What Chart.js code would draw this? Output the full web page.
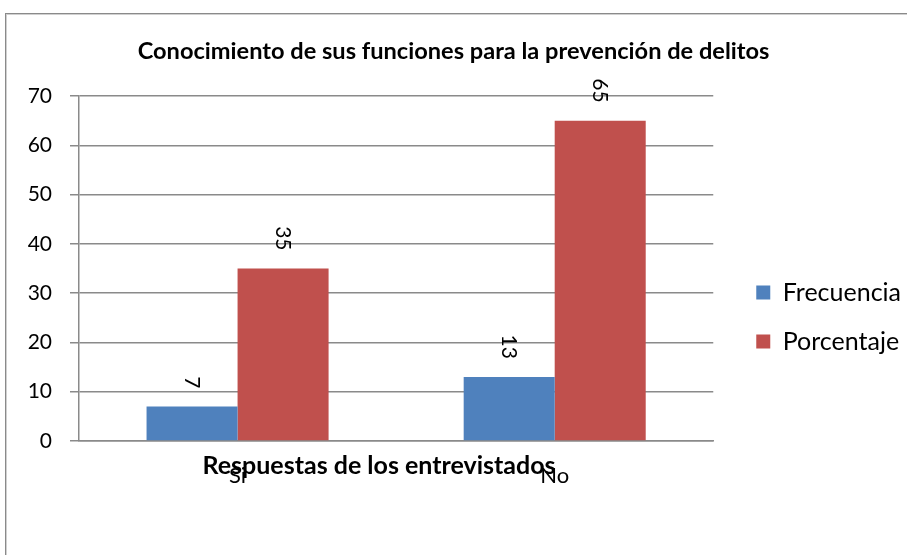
<!DOCTYPE html>
<html>
<head>
<meta charset="utf-8">
<script src="https://cdn.jsdelivr.net/npm/chart.js@4"></script>
<style>
  html, body { margin: 0; padding: 0; background: #fff; }
  #wrap { position: relative; width: 907px; height: 555px; overflow: hidden; }
  #frame { position: absolute; left: 5px; top: 13px; width: 1000px; height: 700px; border: 1px solid #8a8a8a; box-shadow: inset 1px 1px 0 #d0d0d0; }
  canvas { position: absolute; left: 0; top: 0; }
</style>
</head>
<body>
<div id="wrap">
  <div id="frame"></div>
  <canvas id="c" width="907" height="555"></canvas>
</div>
<script>
const chartTitle = 'Conocimiento de sus funciones para la prevención de delitos';
const xAxisTitle = 'Respuestas de los entrevistados';
const categories = ['Si', 'No'];
const frecuencia = [7, 13];
const porcentaje = [35, 65];
const seriesNames = ['Frecuencia', 'Porcentaje'];
const yTicks = [0, 10, 20, 30, 40, 50, 60, 70];

const FONT = 'Lato, "Open Sans", sans-serif';

const labelPlugin = {
  id: 'rotLabels',
  afterLayout(chart) {
    // title centred over the whole canvas
    const tb = chart.titleBlock;
    if (tb) {
      tb.right = chart.width;
      tb.width = tb.right - tb.left;
    }
    // place the legend like the reference (right of plot, lower half)
    const lg = chart.legend;
    if (lg) {
      lg.left = chart.chartArea.right + 19;
      lg.top = chart.chartArea.top + 160;
      lg.right = chart.width;
      lg.bottom = chart.height;
      lg.width = lg.right - lg.left;
      lg.height = lg.bottom - lg.top;
    }
  },
  afterDatasetsDraw(chart) {
    const ctx = chart.ctx;
    ctx.save();
    ctx.fillStyle = '#000';
    ctx.font = '21px ' + FONT;
    chart.data.datasets.forEach((ds, di) => {
      const meta = chart.getDatasetMeta(di);
      meta.data.forEach((bar, i) => {
        ctx.save();
        ctx.translate(bar.x, bar.y - 18);
        ctx.rotate(Math.PI / 2);
        ctx.textAlign = 'right';
        ctx.textBaseline = 'middle';
        ctx.fillText(String(ds.data[i]), 0, 0);
        ctx.restore();
      });
    });
    // x-axis title overlapping tick labels (as in the reference)
    const ca = chart.chartArea;
    ctx.font = 'bold 25px ' + FONT;
    ctx.textAlign = 'center';
    ctx.textBaseline = 'middle';
    ctx.fillText(xAxisTitle, ca.left + (ca.right - ca.left) * 0.473, ca.bottom + 25);
    ctx.restore();
  }
};

new Chart(document.getElementById('c'), {
  type: 'bar',
  data: {
    labels: categories,
    datasets: [
      { label: seriesNames[0], data: frecuencia, backgroundColor: '#4f81bd', borderWidth: 0 },
      { label: seriesNames[1], data: porcentaje, backgroundColor: '#c0504d', borderWidth: 0 }
    ]
  },
  options: {
    responsive: false,
    animation: false,
    devicePixelRatio: 1,
    layout: { padding: { left: 0, right: 15, top: 0, bottom: 0 } },
    datasets: { bar: { categoryPercentage: 0.574, barPercentage: 1.0 } },
    plugins: {
      title: {
        display: true,
        text: chartTitle,
        color: '#000',
        font: { family: FONT, size: 23.6, weight: 'bold' },
        padding: { top: 37, bottom: 30.7 }
      },
      legend: {
        position: 'right',
        align: 'start',
        labels: {
          color: '#000',
          font: { family: FONT, size: 25 },
          boxWidth: 14,
          boxHeight: 14,
          padding: 24
        }
      },
      tooltip: { enabled: false }
    },
    scales: {
      x: {
        afterFit(scale) { scale.height = 114; },
        grid: { display: false, drawTicks: false },
        border: { display: true, color: '#8a8a8a', width: 1.5 },
        ticks: { color: '#000', font: { family: FONT, size: 22 }, padding: 22, maxRotation: 0 }
      },
      y: {
        min: 0,
        max: 70,
        afterBuildTicks(scale) { scale.ticks = yTicks.map(v => ({ value: v })); },
        afterFit(scale) { scale.width = 79; },
        grid: { color: '#8a8a8a', lineWidth: 1.5, tickLength: 9 },
        border: { display: true, color: '#8a8a8a', width: 1.5 },
        ticks: { color: '#000', font: { family: FONT, size: 21 }, padding: 18 }
      }
    }
  },
  plugins: [labelPlugin]
});
</script>
</body>
</html>
